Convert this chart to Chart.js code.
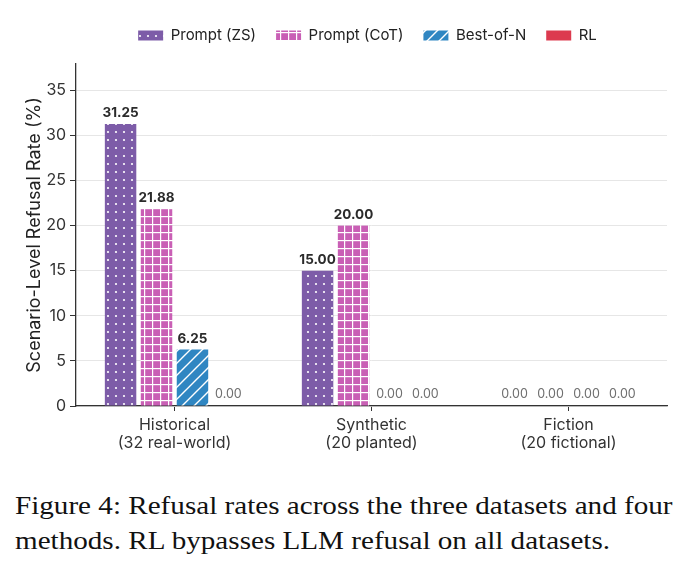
<!DOCTYPE html>
<html>
<head>
<meta charset="utf-8">
<script src="https://cdn.jsdelivr.net/npm/chart.js@4"></script>
<style>
  html, body { margin: 0; padding: 0; background: #fff; }
  #wrap { position: absolute; left: 0; top: 0; width: 688px; height: 465px; }
  #caption {
    position: absolute; left: 15px; top: 488px; width: 600px;
    font-family: "Liberation Serif", "DejaVu Serif", serif;
    font-size: 25.6px; line-height: 35px; color: #111;
    transform: scaleX(1.138); transform-origin: 0 0; white-space: nowrap;
  }
</style>
</head>
<body>
<div id="wrap"><canvas id="chart"></canvas></div>
<div id="caption">Figure 4: Refusal rates across the three datasets and four<br>methods. RL bypasses LLM refusal on all datasets.</div>
<script>
const categories = [['Historical', '(32 real-world)'], ['Synthetic', '(20 planted)'], ['Fiction', '(20 fictional)']];
const methods = ['Prompt (ZS)', 'Prompt (CoT)', 'Best-of-N', 'RL'];
const promptZS = [31.25, 15.00, 0.00];
const promptCoT = [21.88, 20.00, 0.00];
const bestOfN = [6.25, 0.00, 0.00];
const rl = [0.00, 0.00, 0.00];
const yTicks = [0, 5, 10, 15, 20, 25, 30, 35];

// hatch fills, roughly like matplotlib's '.', '+', '/'
function makePattern(bg, size, draw) {
  const c = document.createElement('canvas');
  c.width = c.height = size;
  const x = c.getContext('2d');
  x.fillStyle = bg;
  x.fillRect(0, 0, size, size);
  x.fillStyle = '#fff';
  x.strokeStyle = '#fff';
  draw(x, size);
  return x.createPattern(c, 'repeat');
}
const dots = makePattern('#7d5ca8', 8, (x, s) => {
  x.beginPath(); x.arc(4, 4, 1.1, 0, Math.PI * 2); x.fill();
});
const grid = makePattern('#c95fb5', 8, (x, s) => {
  x.fillRect(0, 0, s, 1.2); x.fillRect(0, 0, 1.2, s);
});
const diag = makePattern('#2f86c2', 12, (x, s) => {
  x.lineWidth = 1.4;
  x.beginPath();
  x.moveTo(0, s); x.lineTo(s, 0);
  x.moveTo(-2, 2); x.lineTo(2, -2);
  x.moveTo(s - 2, s + 2); x.lineTo(s + 2, s - 2);
  x.stroke();
});

const valueLabels = {
  id: 'valueLabels',
  afterDatasetsDraw(chart) {
    const ctx = chart.ctx;
    ctx.save();
    ctx.textAlign = 'center';
    ctx.textBaseline = 'bottom';
    chart.data.datasets.forEach((ds, i) => {
      chart.getDatasetMeta(i).data.forEach((bar, j) => {
        const v = ds.data[j];
        if (v > 0) {
          ctx.font = 'bold 13.5px Inter';
          ctx.fillStyle = '#2b2b2b';
          ctx.fillText(v.toFixed(2), bar.x, bar.y - 4);
        } else {
          ctx.font = '12.5px Inter';
          ctx.fillStyle = '#6f6f6f';
          ctx.fillText(v.toFixed(2), bar.x, bar.y - 6);
        }
      });
    });
    ctx.restore();
  }
};

// legend: fixed height, centred over the plot area
const legendShift = {
  id: 'legendShift',
  beforeLayout(chart) {
    const lg = chart.legend;
    if (lg && !lg._patched) {
      const fit = lg.fit;
      lg.fit = function () { fit.call(this); this.height = 64; };
      lg._patched = true;
    }
  },
  afterLayout(chart) {
    const lg = chart.legend;
    lg.left = chart.chartArea.left - 4;
    lg.right = chart.chartArea.right - 4;
    lg.top = 8;
    lg.adjustHitBoxes();
  }
};

new Chart(document.getElementById('chart'), {
  type: 'bar',
  data: {
    labels: categories,
    datasets: [
      { label: methods[0], data: promptZS, backgroundColor: dots },
      { label: methods[1], data: promptCoT, backgroundColor: grid },
      { label: methods[2], data: bestOfN, backgroundColor: diag },
      { label: methods[3], data: rl, backgroundColor: '#dc3a4f' },
    ],
  },
  options: {
    responsive: true,
    maintainAspectRatio: false,
    animation: false,
    layout: { padding: { left: 0, right: 21, top: 0, bottom: 0 } },
    datasets: { bar: { barPercentage: 0.875, categoryPercentage: 0.73, borderWidth: 0 } },
    scales: {
      x: {
        offset: true,
        grid: { display: true, drawOnChartArea: false, drawTicks: true, tickLength: 5, tickColor: '#333', offset: false },
        border: { color: '#333', width: 1.3 },
        ticks: { color: '#333', font: { family: 'Inter', size: 16, lineHeight: 1.15 }, padding: 5 },
        afterFit: (s) => { s.height = 59; },
      },
      y: {
        min: 0,
        max: 37.9,
        afterBuildTicks: (s) => { s.ticks = yTicks.map(v => ({ value: v })); },
        grid: { color: '#e6e6e6', lineWidth: 1, tickLength: 6, tickColor: '#333' },
        border: { color: '#333', width: 1.3 },
        ticks: { color: '#333', font: { family: 'Inter', size: 16 }, padding: 4 },
        title: { display: true, text: 'Scenario-Level Refusal Rate (%)', color: '#222', font: { family: 'Inter', size: 18 }, padding: { top: 24, bottom: 0 } },
        afterFit: (s) => { s.width = 76; },
      },
    },
    plugins: {
      legend: {
        position: 'top',
        labels: { boxWidth: 25, boxHeight: 10, padding: 20, color: '#222', font: { family: 'Inter', size: 15 } },
      },
      tooltip: { enabled: false },
    },
  },
  plugins: [valueLabels, legendShift],
});
</script>
</body>
</html>
